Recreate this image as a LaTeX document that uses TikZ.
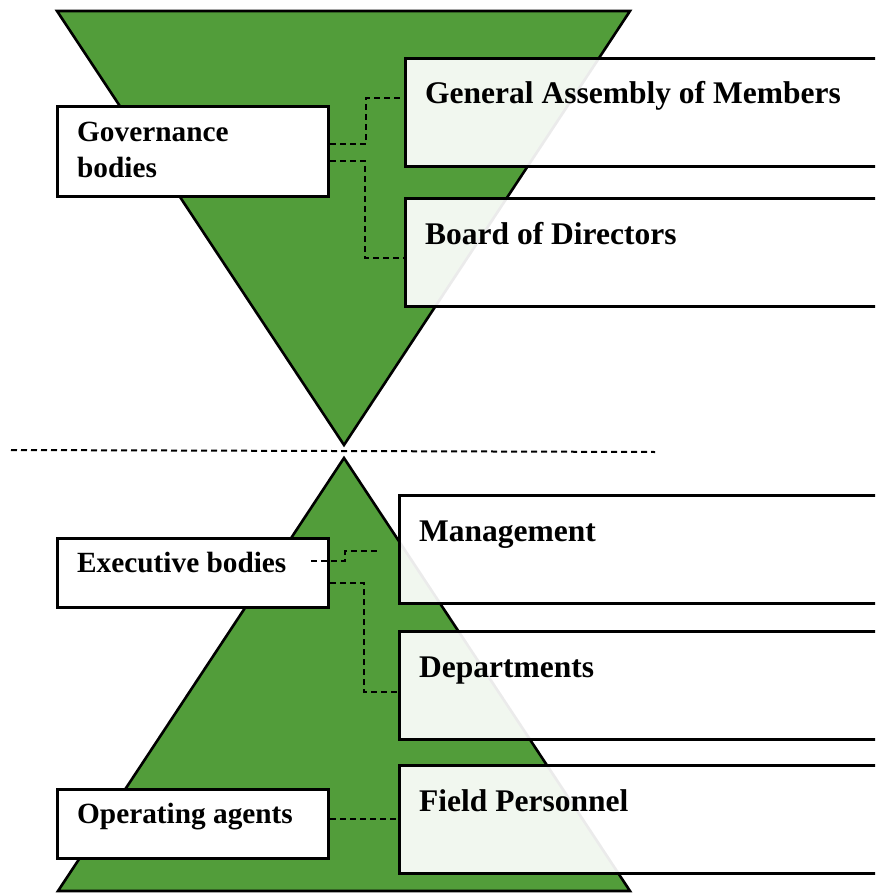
\documentclass[tikz,border=0pt]{standalone}
\usepackage{fontspec}
\setmainfont{Liberation Serif}
\usetikzlibrary{calc}
\definecolor{leafgreen}{RGB}{82,157,58}
\begin{document}
\begin{tikzpicture}[x=1pt, y=-1pt,
  tri/.style={fill=leafgreen, draw=black, line width=2.6pt, line join=miter},
  lbox/.style={draw=black, fill=white, line width=3pt, minimum width=271pt, anchor=north west, inner sep=0pt},
  rbox/.style={draw=black, fill=white, fill opacity=.92, line width=3pt, minimum width=520pt, minimum height=108pt, anchor=north west, inner sep=0pt},
  ltext/.style={font=\bfseries\fontsize{29.3}{36}\selectfont, anchor=base west, inner sep=0pt, align=left},
  rtext/.style={font=\bfseries\fontsize{31.5}{37}\selectfont, anchor=base west, inner sep=0pt},
  link/.style={draw=black, line width=2pt, dash pattern=on 6pt off 4pt}]%
  \useasboundingbox (0,0) rectangle (875,893);
  \clip (0,0) rectangle (875,893);
  \draw[tri] (57,11) -- (630,11) -- (344,445) -- cycle;
  \draw[tri] (344,458) -- (630,891) -- (58,891) -- cycle;
  \coordinate (sepL) at (11,450);
  \coordinate (sepR) at (655,452);
  \draw[link] (sepL) -- (sepR);
  \node[lbox, minimum height=90pt] (gov) at (56,105) {};
  \node[lbox, minimum height=69pt] (exe) at (56,537) {};
  \node[lbox, minimum height=69pt] (opa) at (56,788) {};
  \node[ltext] (govT) at ($(gov.north west)+(21,73)$) {Governance\\bodies};
  \node[ltext] (exeT) at ($(exe.north west)+(21,35)$) {Executive bodies};
  \node[ltext] (opaT) at ($(opa.north west)+(21,35)$) {Operating agents};
  \node[rbox] (gam) at (404,57) {};
  \node[rbox] (bod) at (404,197) {};
  \node[rbox] (man) at (398,494) {};
  \node[rbox] (dep) at (398,630) {};
  \node[rbox] (fip) at (398,764) {};
  \draw[link] (gov.east |- 0,144) -- ++(36,0) |- (gam.west |- 0,98);
  \draw[link] (gov.east |- 0,161) -- ++(35,0) |- (bod.west |- 0,258);
  \coordinate (manE) at (377,551);
  \draw[link] ([xshift=-19pt]exe.east |- 0,561) -| (345,551) -- (manE);
  \draw[link] (exe.east |- 0,583) -- ++(34,0) |- (dep.west |- 0,692);
  \draw[link] (opa.east |- 0,819) -- (fip.west |- 0,819);
  \foreach \b/\t in {gam/General Assembly of Members, bod/Board of Directors,
    man/Management, dep/Departments, fip/Field Personnel} {
    \node[rtext] (\b T) at ($(\b.north west)+(21,47)$) {\t};
  }
\end{tikzpicture}
\end{document}
